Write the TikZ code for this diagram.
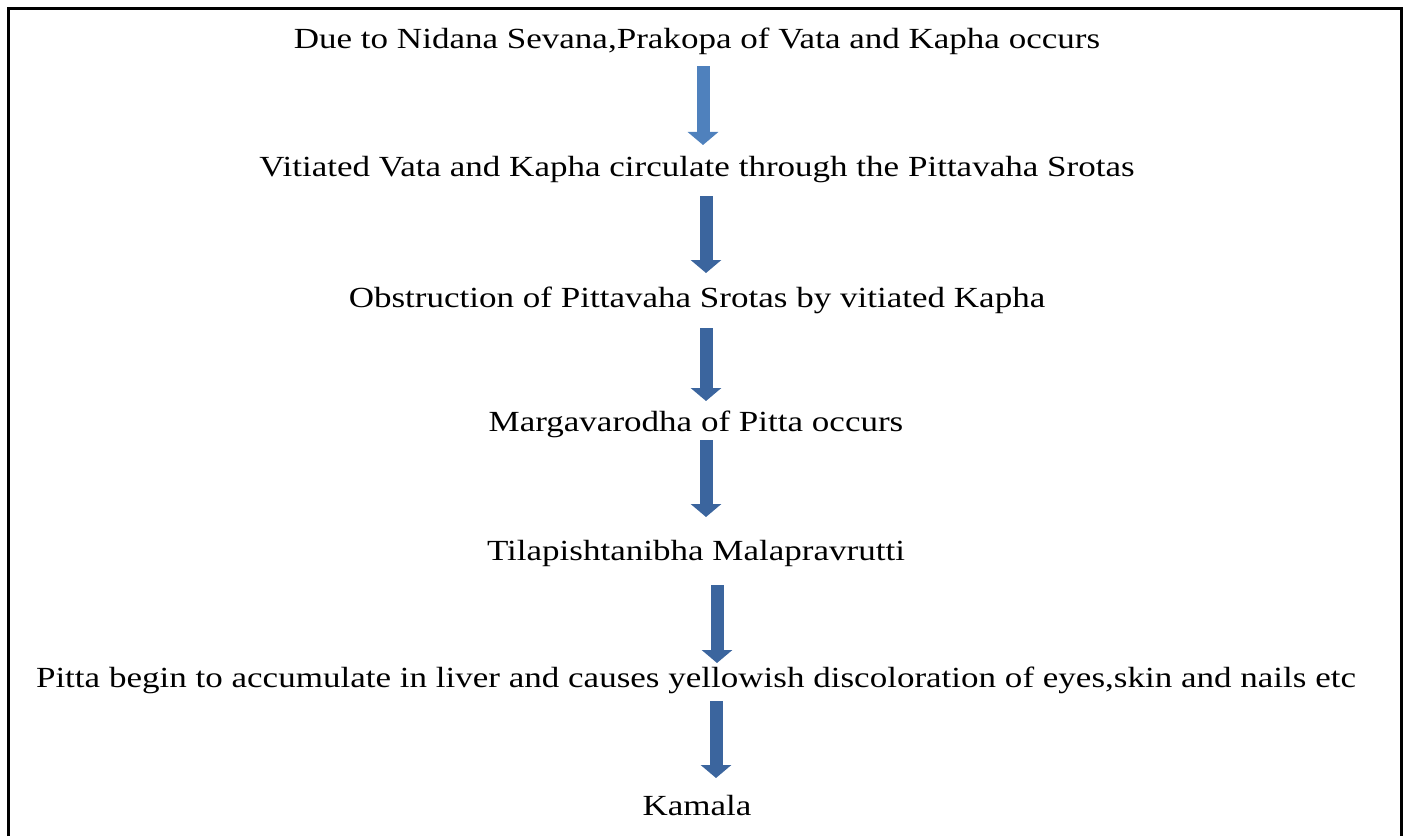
\documentclass[tikz,border=0pt]{standalone}
\usepackage{fontspec}
\setmainfont[FakeStretch=1.2]{Liberation Serif}
\usetikzlibrary{arrows.meta}
\definecolor{arrowlight}{HTML}{4F81BD}
\definecolor{arrowdark}{HTML}{3B659E}
\tikzset{
  px/.style={x=0.01cm,y=-0.01cm},
  label/.style={inner sep=0pt,anchor=center,font=\fontsize{8.3}{10}\selectfont},
  blockarrow/.style={line width=0.13cm,-{Triangle[width=0.30cm,length=0.13cm]},draw=#1},
}
\begin{document}
\begin{tikzpicture}[px]
\useasboundingbox (0,0) rectangle (1407,836);
\draw[line width=0.03cm] (8.5,836) -- (8.5,8) -- (1401,8) -- (1401,836);
\node[label] (t1) at (697,41) {Due to Nidana Sevana,Prakopa of Vata and Kapha occurs};
\node[label] (t2) at (697,170) {Vitiated Vata and Kapha circulate through the Pittavaha Srotas};
\node[label] (t3) at (697,300) {Obstruction of Pittavaha Srotas by vitiated Kapha};
\node[label] (t4) at (696,424) {Margavarodha of Pitta occurs};
\node[label] (t5) at (696,553) {Tilapishtanibha Malapravrutti};
\node[label] (t6) at (696,680) {Pitta begin to accumulate in liver and causes yellowish discoloration of eyes,skin and nails etc};
\node[label] (t7) at (697,805) {Kamala};
\coordinate (a1s) at (703,66);  \coordinate (a1e) at (703,145);
\coordinate (a2s) at (706,196); \coordinate (a2e) at (706,273);
\coordinate (a3s) at (706,328); \coordinate (a3e) at (706,401);
\coordinate (a4s) at (706,440); \coordinate (a4e) at (706,517);
\coordinate (a5s) at (717,585); \coordinate (a5e) at (717,663);
\coordinate (a6s) at (716,701); \coordinate (a6e) at (716,778);
\draw[blockarrow=arrowlight] (a1s) -- (a1e);
\draw[blockarrow=arrowdark] (a2s) -- (a2e);
\draw[blockarrow=arrowdark] (a3s) -- (a3e);
\draw[blockarrow=arrowdark] (a4s) -- (a4e);
\draw[blockarrow=arrowdark] (a5s) -- (a5e);
\draw[blockarrow=arrowdark] (a6s) -- (a6e);
\end{tikzpicture}
\end{document}
